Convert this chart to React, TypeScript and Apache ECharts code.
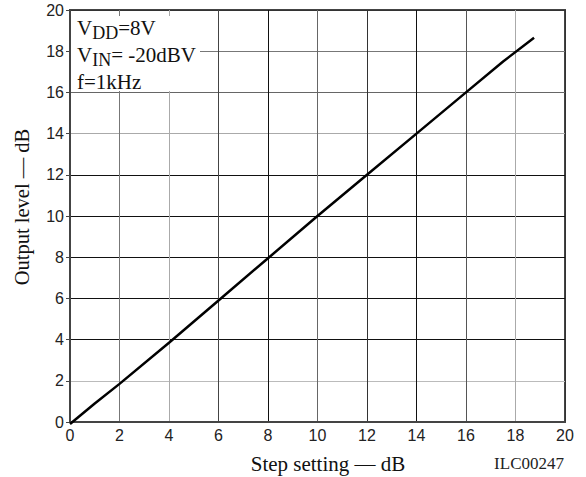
import React, { useEffect, useRef } from "react";
import * as echarts from "echarts";

const stepSetting = [0, 1, 2, 4, 6, 8, 10, 12, 14, 16, 17.5, 18.75];
const outputLevel = [-0.1, 0.9, 1.85, 3.85, 5.9, 7.95, 10, 12, 14, 16, 17.5, 18.65];
const xColors = ["#333", "#777", "#aaa", "#444", "#111", "#666", "#333", "#111", "#555", "#aaa", "#333"];
const yColors = ["#333", "#bbb", "#111", "#111", "#111", "#111", "#111", "#aaa", "#666", "#777", "#333"];
const xTitle = "Step setting — dB";
const yTitle = "Output level — dB";
const figId = "ILC00247";

export default function App() {
  const ref = useRef<HTMLDivElement>(null);
  useEffect(() => {
    if (!ref.current) return;
    const chart = echarts.init(ref.current, null, { renderer: "svg" });
    const sans = "'Liberation Sans', Arial, sans-serif";
    const serif = "'Liberation Serif', 'Times New Roman', serif";
    chart.setOption({
      animation: false,
      backgroundColor: "#fff",
      grid: { left: 70, right: 21, top: 10, bottom: 55, show: true, borderColor: "#444", borderWidth: 2, backgroundColor: "transparent" },
      xAxis: {
        type: "value", min: 0, max: 20, interval: 2,
        axisLine: { show: true, lineStyle: { color: "#444", width: 2 } },
        axisTick: { show: false },
        axisLabel: { fontFamily: sans, fontSize: 16, color: "#222", margin: 5 },
        splitLine: { show: true, lineStyle: { color: xColors, width: 1 } },
      },
      yAxis: {
        type: "value", min: 0, max: 20, interval: 2,
        axisLine: { show: true, lineStyle: { color: "#444", width: 2 } },
        axisTick: { show: true, length: 4, lineStyle: { color: "#444" } },
        axisLabel: { fontFamily: sans, fontSize: 16, color: "#222", margin: 6 },
        splitLine: { show: true, lineStyle: { color: yColors, width: 1 } },
      },
      series: [{
        type: "line",
        data: stepSetting.map((x, i) => [x, outputLevel[i]]),
        showSymbol: false,
        symbol: "none",
        lineStyle: { color: "#000", width: 2.5 },
        clip: false,
        z: 5,
      }],
      graphic: [
        { type: "rect", z: 3, shape: { x: 71, y: 16, width: 129, height: 75 }, style: { fill: "#fff" } },
        {
          type: "text", z: 4, left: 77, top: 17,
          style: {
            text: "{v|V}{sub|DD}{v|=8V}\n{v|V}{sub|IN}{v|= -20dBV}\n{v|f=1kHz}",
            fontFamily: serif, fill: "#111", lineHeight: 27,
            rich: {
              v: { fontFamily: serif, fontSize: 21, color: "#111", lineHeight: 27, verticalAlign: "top" },
              sub: { fontFamily: serif, fontSize: 18, color: "#111", lineHeight: 19, verticalAlign: "top", padding: [7, 0, 0, 0] },
            },
          },
        },
        {
          type: "text", z: 4, x: 328, y: 464,
          style: { text: xTitle, fontFamily: serif, fontSize: 21, fill: "#111", align: "center", verticalAlign: "middle" },
        },
        {
          type: "text", z: 4, x: 22, y: 207, rotation: Math.PI / 2,
          style: { text: yTitle, fontFamily: serif, fontSize: 20.5, fill: "#111", align: "center", verticalAlign: "middle" },
        },
        {
          type: "text", z: 4, x: 564, y: 463,
          style: { text: figId, fontFamily: serif, fontSize: 17, fill: "#222", align: "right", verticalAlign: "middle" },
        },
      ],
    });
    return () => chart.dispose();
  }, []);
  return <div ref={ref} style={{ position: "fixed", left: 0, top: 0, width: 586, height: 477 }} />;
}
